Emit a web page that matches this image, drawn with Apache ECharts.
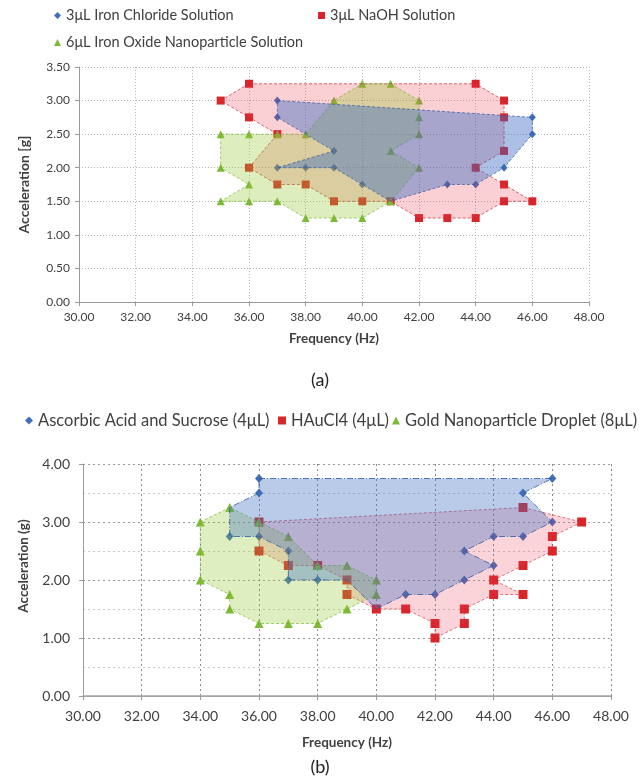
<!DOCTYPE html>
<html>
<head>
<meta charset="utf-8">
<script src="https://cdn.jsdelivr.net/npm/echarts@6/dist/echarts.min.js"></script>
<style>
  html, body { margin: 0; background: #fff; }
  #chart { width: 640px; height: 783px; }
</style>
</head>
<body>
<div id="chart"></div>
<script>
// chart (a): outlines are traced in drawing order, marks are the plotted points
const ironChlorideOutline = [[37,3.0],[46,2.75],[46,2.5],[45,2.0],[44,1.75],[43,1.75],[41,1.5],[40,1.75],[39,2.0],[38,2.0],[37,2.0],[39,2.25],[37,2.75]];
const ironChlorideMarks = [[37,3.0],[37,2.75],[39,2.25],[37,2.0],[38,2.0],[39,2.0],[40,1.75],[43,1.75],[44,1.75],[45,2.0],[46,2.5],[46,2.75]];
const naohOutline = [[36,3.25],[44,3.25],[45,3.0],[45,2.75],[45,2.25],[44,2.0],[45,1.75],[46,1.5],[45,1.5],[44,1.25],[43,1.25],[42,1.25],[41,1.5],[40,1.5],[39,1.5],[38,1.75],[37,1.75],[36,2.0],[37,2.5],[36,2.75],[35,3.0]];
const naohMarks = naohOutline;
const ironOxideOutline = [[35,2.5],[36,2.5],[37,2.5],[38,2.5],[39,3.0],[40,3.25],[41,3.25],[42,3.0],[42,2.75],[42,2.5],[41,2.25],[42,2.0],[41,1.5],[40,1.25],[39,1.25],[38,1.25],[37,1.5],[36,1.5],[35,1.5],[36,1.75],[35,2.0]];
const ironOxideMarks = ironOxideOutline;

// chart (b)
const ascorbicOutline = [[36,3.75],[46,3.75],[45,3.5],[46,3.0],[45,2.75],[44,2.75],[43,2.5],[44,2.25],[43,2.0],[42,1.75],[41,1.75],[40,1.5],[39,2.0],[38,2.0],[37,2.0],[37,2.5],[36,2.75],[35,2.75],[35,3.25],[36,3.5]];
const ascorbicMarks = [[36,3.75],[46,3.75],[45,3.5],[46,3.0],[45,2.75],[44,2.75],[43,2.5],[44,2.25],[43,2.0],[42,1.75],[41,1.75],[38,2.0],[37,2.0],[37,2.5],[36,2.75],[35,2.75],[36,3.5]];
const haucl4Outline = [[36,3.0],[45,3.25],[47,3.0],[46,2.75],[46,2.5],[45,2.25],[44,2.0],[45,1.75],[44,1.75],[43,1.5],[43,1.25],[42,1.0],[42,1.25],[41,1.5],[40,1.5],[39,1.75],[39,2.0],[38,2.25],[37,2.25],[36,2.5]];
const haucl4Marks = haucl4Outline;
const goldOutline = [[34,3.0],[35,3.25],[36,3.0],[37,2.75],[38,2.25],[39,2.25],[40,2.0],[40,1.75],[39,1.5],[38,1.25],[37,1.25],[36,1.25],[35,1.5],[35,1.75],[34,2.0],[34,2.5]];
const goldMarks = goldOutline;

const names = {
  a: ["3μL Iron Chloride Solution", "3μL NaOH Solution", "6μL Iron Oxide Nanoparticle Solution"],
  b: ["Ascorbic Acid and Sucrose (4μL)", "HAuCl4 (4μL)", "Gold Nanoparticle Droplet (8μL)"],
};

const BLUE = "#3f6fb8";
const RED = "#d8262a";
const GREEN = "#7dba36";
const FONT = "Lato";
const TEXT = "#404040";

function area(outline, idx, fill, stroke, z, dash) {
  return {
    type: "custom",
    xAxisIndex: idx,
    yAxisIndex: idx,
    silent: true,
    z: z,
    data: outline,
    renderItem(params, api) {
      if (params.dataIndex !== 0) return null;
      return {
        type: "polygon",
        shape: { points: outline.map((p) => api.coord(p)) },
        style: { fill: fill, stroke: stroke, lineWidth: 1, lineDash: dash || [3, 2] },
      };
    },
  };
}

function marks(name, data, idx, symbol, size, color) {
  return {
    type: "scatter",
    name: name,
    xAxisIndex: idx,
    yAxisIndex: idx,
    z: 1,
    symbol: symbol,
    symbolSize: size,
    itemStyle: { color: color, opacity: 1 },
    data: data,
  };
}

function legend(name, icon, left, top, size, fontSize) {
  return {
    data: [{ name: name, icon: icon }],
    left: left,
    top: top,
    padding: 0,
    itemWidth: size,
    itemHeight: size,
    itemGap: 5,
    textStyle: { fontFamily: FONT, fontSize: fontSize, color: TEXT },
  };
}

function xAxis(gi, fontSize, margin, nameGap, gridStyle) {
  return {
    type: "value",
    gridIndex: gi,
    min: 30,
    max: 48,
    interval: 2,
    name: "Frequency (Hz)",
    nameLocation: "middle",
    nameGap: nameGap,
    nameTextStyle: { fontFamily: FONT, fontSize: 13.5, fontWeight: "bold", color: TEXT },
    axisLine: { show: true, onZero: false, lineStyle: { color: "#9a9a9a" } },
    axisTick: { show: true, length: 4, lineStyle: { color: "#9a9a9a" } },
    axisLabel: { fontFamily: FONT, fontSize: fontSize, color: TEXT, margin: margin, formatter: (v) => v.toFixed(2) },
    splitLine: { show: true, lineStyle: gridStyle },
  };
}

const chart = echarts.init(document.getElementById("chart"), null, { renderer: "canvas" });

chart.setOption({
  animation: false,
  title: [
    { text: "(a)", left: "center", top: 366, textStyle: { fontFamily: FONT, fontSize: 18, fontWeight: "normal", color: "#222" } },
    { text: "(b)", left: "center", top: 753, textStyle: { fontFamily: FONT, fontSize: 18, fontWeight: "normal", color: "#222" } },
  ],
  legend: [
    legend(names.a[0], "diamond", 54, 8, 7, 14.5),
    legend(names.a[1], "rect", 318, 8, 7, 14.5),
    legend(names.a[2], "triangle", 54, 35, 7, 14.5),
    legend(names.b[0], "diamond", 25, 412, 8, 16.5),
    legend(names.b[1], "rect", 278, 412, 8, 16.5),
    legend(names.b[2], "triangle", 392, 412, 8, 16.5),
  ],
  grid: [
    { left: 79, top: 67, width: 510, height: 235 },
    { left: 83, top: 464, width: 528, height: 232 },
  ],
  xAxis: [
    xAxis(0, 12, 9, 30, { color: "#b5b5b5", type: [1, 2] }),
    xAxis(1, 14, 13, 40, { color: "#8c8c8c", type: [2, 3] }),
    {
      type: "value", gridIndex: 1, position: "top", min: 30, max: 48,
      axisLine: { show: true, lineStyle: { color: "#a6a6a6", width: 1.5 } },
      axisTick: { show: false }, axisLabel: { show: false }, splitLine: { show: false },
    },
  ],
  yAxis: [
    {
      type: "value", gridIndex: 0, min: 0, max: 3.5, interval: 0.5,
      name: "Acceleration [g]", nameLocation: "middle", nameGap: 48,
      nameTextStyle: { fontFamily: FONT, fontSize: 14, fontWeight: "bold", color: TEXT },
      axisLine: { show: true, lineStyle: { color: "#9a9a9a" } },
      axisTick: { show: true, length: 4, lineStyle: { color: "#9a9a9a" } },
      axisLabel: { fontFamily: FONT, fontSize: 12, color: TEXT, margin: 9, formatter: (v) => v.toFixed(2) },
      splitLine: { show: true, lineStyle: { color: "#b5b5b5", type: [1, 2] } },
    },
    {
      type: "value", gridIndex: 1, min: 0, max: 4, interval: 1,
      name: "Acceleration (g)", nameLocation: "middle", nameGap: 52,
      nameTextStyle: { fontFamily: FONT, fontSize: 13.5, fontWeight: "bold", color: TEXT, padding: [0, 0, 0, 28] },
      axisLine: { show: true, lineStyle: { color: "#9a9a9a" } },
      axisTick: { show: true, length: 4, lineStyle: { color: "#9a9a9a" } },
      axisLabel: { fontFamily: FONT, fontSize: 14, color: TEXT, margin: 13, formatter: (v) => v.toFixed(2) },
      splitLine: { show: true, lineStyle: { color: "#9a9a9a", type: [2, 3] } },
      minorTick: { show: false, splitNumber: 2 },
      minorSplitLine: { show: true, lineStyle: { color: "#c8c8c8", type: [2, 3] } },
    },
  ],
  series: [
    marks(names.a[0], ironChlorideMarks, 0, "diamond", [7, 8], BLUE),
    marks(names.a[1], naohMarks, 0, "rect", 8, RED),
    marks(names.a[2], ironOxideMarks, 0, "triangle", 8, GREEN),
    area(naohOutline, 0, "rgba(235,60,80,0.24)", "rgba(200,40,50,0.7)", 2),
    area(ironOxideOutline, 0, "rgba(150,200,50,0.32)", "rgba(110,170,40,0.6)", 3),
    area(ironChlorideOutline, 0, "rgba(55,105,190,0.42)", "rgba(50,90,160,0.7)", 4),

    marks(names.b[0], ascorbicMarks, 1, "diamond", [8, 9], BLUE),
    marks(names.b[1], haucl4Marks, 1, "rect", 9, RED),
    marks(names.b[2], goldMarks, 1, "triangle", 9, GREEN),
    area(haucl4Outline, 1, "rgba(235,60,80,0.22)", "rgba(200,40,50,0.6)", 2),
    area(goldOutline, 1, "rgba(150,200,50,0.3)", "rgba(110,170,40,0.6)", 3),
    area(ascorbicOutline, 1, "rgba(60,110,190,0.36)", "rgba(50,90,160,0.8)", 4, [6, 2, 1, 2]),
  ],
});
</script>
</body>
</html>
